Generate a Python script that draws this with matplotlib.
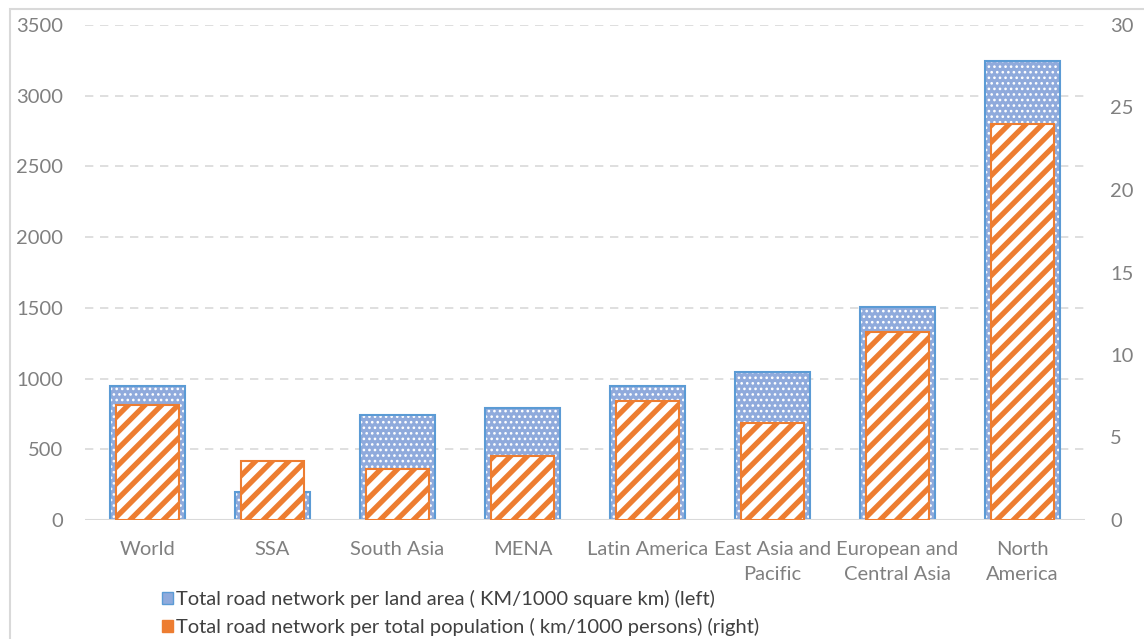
import numpy as np
import matplotlib as mpl
mpl.use('Agg')
import matplotlib.pyplot as plt
from matplotlib.patches import Rectangle

mpl.rcParams['font.family'] = ['Lato', 'DejaVu Sans']

regions = ['World', 'SSA', 'South Asia', 'MENA', 'Latin America',
           'East Asia and\nPacific', 'European and\nCentral Asia', 'North\nAmerica']
# km of road per 1000 square km of land (left axis)
per_area = [945, 200, 745, 795, 950, 1045, 1505, 3245]
# km of road per 1000 persons (right axis)
per_pop = [7.0, 3.6, 3.1, 3.9, 7.2, 5.9, 11.4, 24.0]

lab_area = 'Total road network per land area ( KM/1000 square km) (left)'
lab_pop = 'Total road network per total population ( km/1000 persons) (right)'

blue_face = '#8faadc'
blue_edge = '#5b9bd5'
orange = '#ed7d31'
grey_txt = '#808080'

def bars(ax, x, h, width, face, hatch, hcol, edge, hlw):
    with mpl.rc_context({'hatch.linewidth': hlw}):
        b = ax.bar(x, h, width, color=face, edgecolor=hcol, hatch=hatch, lw=0, zorder=2)
    for p in b:
        if hasattr(p, 'set_hatch_linewidth'):
            p.set_hatch_linewidth(hlw)
    ax.bar(x, h, width, fill=False, edgecolor=edge, lw=1.5, zorder=3)

fig = plt.figure(figsize=(11.44, 6.39), dpi=100)
ax = fig.add_axes([85/1144, 1-520/639, 1000/1144, 495/639])
ax2 = ax.twinx()

x = np.arange(len(regions))
bars(ax, x, per_area, 0.6, blue_face, '...', 'white', blue_edge, 1.1)
bars(ax2, x, per_pop, 0.5, 'white', '//', orange, orange, 3.8)

ax.set_xlim(-0.5, len(regions)-0.5)
ax.set_ylim(0, 3500)
ax2.set_ylim(0, 30)
ax.set_yticks(np.arange(0, 3501, 500))
ax2.set_yticks(np.arange(0, 31, 5))
ax.set_xticks(x)
ax.set_xticklabels(regions, linespacing=1.55, va='top')

ax.yaxis.grid(True, color='#d9d9d9', ls=(0, (5, 4)), lw=1.2)
ax.set_axisbelow(True)
for a in (ax, ax2):
    for s in ('left', 'right', 'top', 'bottom'):
        a.spines[s].set_visible(False)
    a.tick_params(length=0, labelsize=14.5, labelcolor=grey_txt)
ax.axhline(0, color='#d9d9d9', lw=1.5, zorder=4)
ax.tick_params(axis='y', pad=16)
ax2.tick_params(axis='y', pad=18)
ax.tick_params(axis='x', pad=15)
ax2.set_zorder(ax.get_zorder() + 1)
ax2.patch.set_visible(False)

h1 = Rectangle((0, 0), 1, 1, facecolor=blue_face, edgecolor=blue_edge, lw=1)
h2 = Rectangle((0, 0), 1, 1, facecolor=orange, edgecolor=orange, lw=1)
leg = fig.legend([h1, h2], [lab_area, lab_pop], loc='upper left',
                 bbox_to_anchor=(162/1144, 1-590/639), frameon=False,
                 fontsize=14.5, handlelength=0.55, handleheight=0.55,
                 handletextpad=0.15, labelspacing=0.5, borderaxespad=0, borderpad=0)
for t in leg.get_texts():
    t.set_color('#404040')

# thin frame round the whole chart, open at right and bottom edges
fig.patches.append(Rectangle((10/1144, -0.1), 1.2, 1.1 - 9/639,
                             transform=fig.transFigure, fill=False,
                             edgecolor='#d9d9d9', lw=1.5))

fig.savefig('out.png', dpi=100)
